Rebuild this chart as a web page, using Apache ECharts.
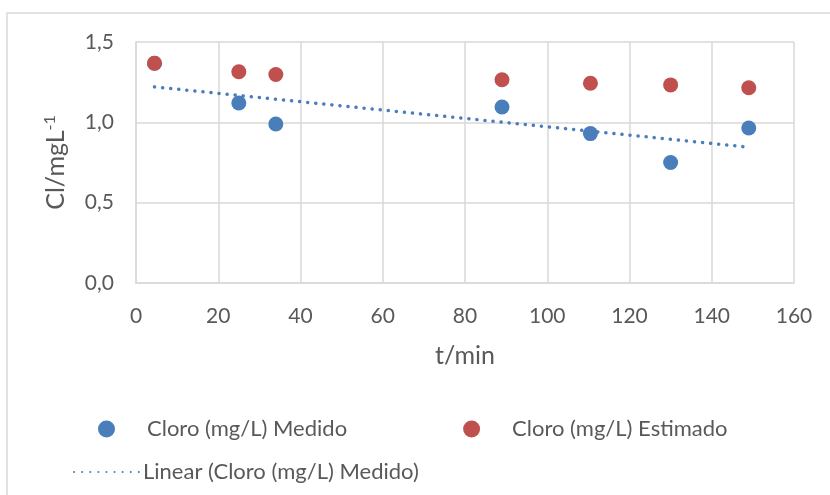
<!DOCTYPE html>
<html><head><meta charset="utf-8">
<script src="https://cdn.jsdelivr.net/npm/echarts@6/dist/echarts.min.js"></script>
<style>html,body{margin:0;padding:0;background:#fff}#c{width:830px;height:495px}</style>
</head><body><div id="c"></div>
<script>
const tMin = [4.5, 25, 34, 89, 110.5, 130, 149];
const medido = [1.368, 1.12, 0.99, 1.095, 0.93, 0.75, 0.965];
const estimado = [1.368, 1.315, 1.298, 1.265, 1.243, 1.233, 1.215];
const xTicks = [0, 20, 40, 60, 80, 100, 120, 140, 160];
const yTicks = [0, 0.5, 1.0, 1.5];
const names = ['Cloro (mg/L) Medido', 'Cloro (mg/L) Estimado', 'Linear (Cloro (mg/L) Medido)'];

// least squares trend of Medido
const n = tMin.length;
const mx = tMin.reduce((a,b)=>a+b,0)/n, my = medido.reduce((a,b)=>a+b,0)/n;
let sxy=0,sxx=0; for(let i=0;i<n;i++){sxy+=(tMin[i]-mx)*(medido[i]-my);sxx+=(tMin[i]-mx)**2;}
const slope=sxy/sxx, icpt=my-slope*mx;
const xs=[tMin[0], tMin[n-1]];
const trend = xs.map(x=>[x, icpt+slope*x]);

const FONT='Lato', GREY='#595959';
const chart = echarts.init(document.getElementById('c'));
chart.setOption({
  animation:false,
  textStyle:{fontFamily:FONT},
  graphic:[{type:'rect',shape:{x:7,y:13,width:830,height:490},style:{fill:'none',stroke:'#d9d9d9',lineWidth:1.5},z:-1}],
  grid:{left:136,right:36,top:42,bottom:212},
  xAxis:{type:'value',min:0,max:160,interval:20,
    name:'t/min',nameLocation:'middle',nameGap:60,nameTextStyle:{color:GREY,fontSize:25,fontFamily:FONT},
    axisLine:{lineStyle:{color:'#d9d9d9',width:1.5}},axisTick:{show:false},
    axisLabel:{color:GREY,fontSize:21,margin:23,fontFamily:FONT},
    splitLine:{show:true,lineStyle:{color:'#d9d9d9',width:1.5}}},
  yAxis:{type:'value',min:0,max:1.5,interval:0.5,
    name:'Cl/mgL{s|-1}',nameLocation:'middle',nameGap:66,nameRotate:90,
    nameTextStyle:{color:GREY,fontSize:25,fontFamily:FONT,rich:{s:{fontSize:16,color:GREY,verticalAlign:'top',padding:[0,0,12,0],fontFamily:FONT}}},
    axisLine:{show:true,lineStyle:{color:'#d9d9d9',width:1.5}},axisTick:{show:false},
    axisLabel:{color:GREY,fontSize:21,margin:22,fontFamily:FONT,formatter:v=>v.toFixed(1).replace('.',',')},
    splitLine:{show:true,lineStyle:{color:'#d9d9d9',width:1.5}}},
  legend:[
    {data:[names[0],names[1]],left:93,top:413,itemWidth:17,itemHeight:17,itemGap:116,icon:'circle',
     textStyle:{color:GREY,fontSize:22,fontFamily:FONT,padding:[0,0,0,27]}},
    {data:[names[2]],left:68,top:456,itemWidth:72,itemHeight:6,itemGap:0,
     itemStyle:{opacity:0},
     textStyle:{color:GREY,fontSize:22,fontFamily:FONT,padding:[0,0,0,-8]}}
  ],
  series:[
    {name:names[2],type:'line',data:trend,showSymbol:false,symbol:'none',
     lineStyle:{color:'#4a7ebb',width:3.5,type:[0.1,8],cap:'round'},itemStyle:{color:'#4a7ebb'},z:1},
    {name:names[0],type:'scatter',data:tMin.map((x,i)=>[x,medido[i]]),symbolSize:15,
     itemStyle:{color:'#4a7ebb',opacity:1},z:2},
    {name:names[1],type:'scatter',data:tMin.map((x,i)=>[x,estimado[i]]),symbolSize:15,
     itemStyle:{color:'#c0504d',opacity:1},z:3}
  ]
});
</script></body></html>
